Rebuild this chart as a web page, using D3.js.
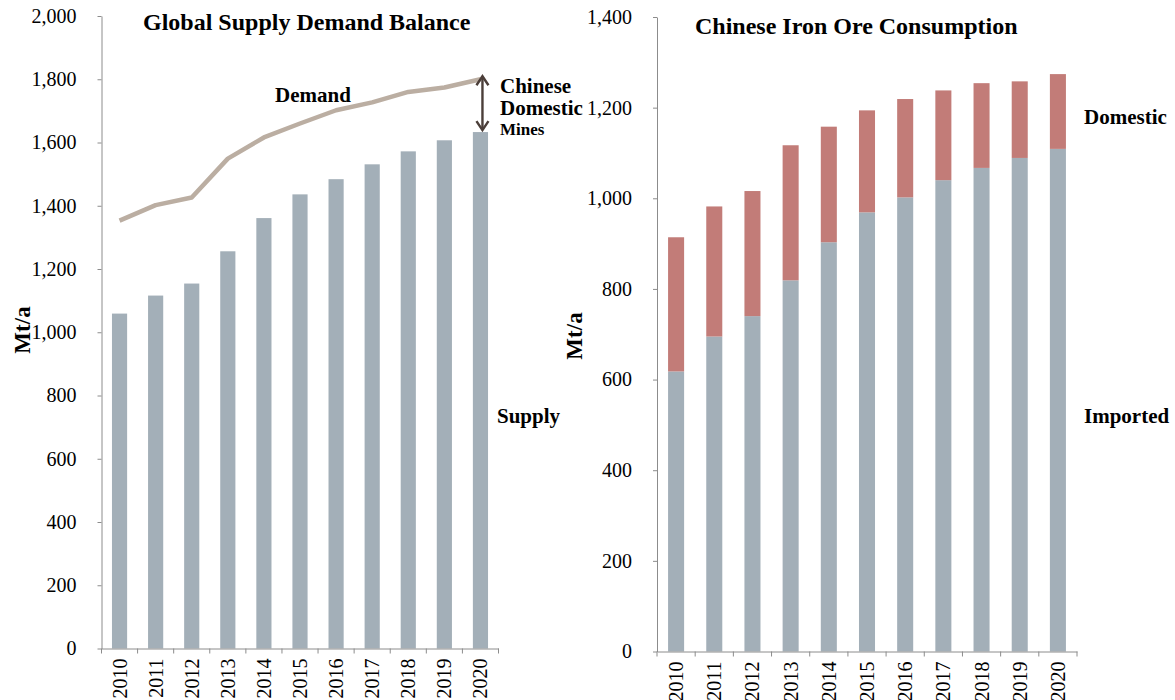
<!DOCTYPE html>
<html lang="en">

<head>
    <script src="https://d3js.org/d3.v7.min.js"></script>
    <title>Iron ore supply, demand and Chinese consumption</title>
    <style>
        body {
            margin: 0;
            background: #fff;
        }

        svg text {
            font-family: "Liberation Serif", "Times New Roman", serif;
            fill: #000;
        }

        .axis path,
        .axis line {
            stroke: #8c8c8c;
            stroke-width: 1;
        }

        .axis text {
            font-size: 20px;
        }

        .label {
            font-weight: bold;
            font-size: 21px;
        }
    </style>
</head>

<body>
    <svg id="chart" width="1175" height="700"></svg>

    <script>
        const width = 1175;
        const height = 700;

        // data (Mt/a)
        const years = ["2010", "2011", "2012", "2013", "2014", "2015", "2016", "2017", "2018", "2019", "2020"];
        const supply = [1059, 1116, 1154, 1256, 1361, 1436, 1484, 1531, 1572, 1607, 1633];
        const demand = [1353, 1402, 1426, 1549, 1616, 1660, 1702, 1727, 1760, 1774, 1800];
        const imported = [618, 695, 740, 819, 903, 969, 1002, 1040, 1067, 1089, 1109];
        const domestic = [296, 287, 276, 298, 255, 225, 217, 198, 187, 169, 165];

        const leftTicks = [0, 200, 400, 600, 800, 1000, 1200, 1400, 1600, 1800, 2000];
        const rightTicks = [0, 200, 400, 600, 800, 1000, 1200, 1400];

        const greyBar = "#a3afb8";
        const redBar = "#c27c78";
        const demandColor = "#bbaea2";
        const arrowColor = "#4b3e39";

        const svg = d3.select("#chart")
            .attr("width", width)
            .attr("height", height);

        function drawAxes(x, y, ticks) {
            const x0 = x.range()[0], x1 = x.range()[1];
            const y0 = y.range()[0];

            svg.append("g")
                .attr("class", "axis")
                .attr("transform", `translate(${x0},0)`)
                .call(d3.axisLeft(y)
                    .tickValues(ticks)
                    .tickSizeInner(4)
                    .tickSizeOuter(0)
                    .tickPadding(21)
                    .tickFormat(d3.format(",")));

            const xAxis = svg.append("g")
                .attr("class", "axis")
                .attr("transform", `translate(0,${y0})`)
                .call(d3.axisBottom(x).tickSize(0).tickSizeOuter(0));

            xAxis.selectAll(".tick text")
                .attr("transform", "rotate(-90)")
                .attr("x", -10)
                .attr("y", 0)
                .attr("dy", "0.35em")
                .style("text-anchor", "end");

            // ticks sit on the category boundaries
            xAxis.selectAll(".edge")
                .data(years.concat(["end"]))
                .enter().append("line")
                .attr("class", "edge")
                .attr("x1", d => d === "end" ? x1 : x(d))
                .attr("x2", d => d === "end" ? x1 : x(d))
                .attr("y1", 0)
                .attr("y2", 5);
        }

        // ---------- left: global supply demand balance ----------
        const xL = d3.scaleBand().domain(years).range([101.5, 498.5]).padding(0);
        const yL = d3.scaleLinear().domain([0, 2000]).range([648.5, 16]);
        const barWL = xL.bandwidth() * 0.42;

        svg.append("g").selectAll("rect")
            .data(years)
            .enter().append("rect")
            .attr("x", d => xL(d) + (xL.bandwidth() - barWL) / 2)
            .attr("y", (d, i) => yL(supply[i]))
            .attr("width", barWL)
            .attr("height", (d, i) => yL(0) - yL(supply[i]))
            .style("fill", greyBar);

        drawAxes(xL, yL, leftTicks);

        const line = d3.line()
            .x((d, i) => xL(years[i]) + xL.bandwidth() / 2)
            .y(d => yL(d));

        svg.append("path")
            .datum(demand)
            .attr("d", line)
            .style("fill", "none")
            .style("stroke", demandColor)
            .style("stroke-width", 4.5)
            .style("stroke-linejoin", "round");

        // arrow between demand and supply in 2020
        const ax = xL("2020") + xL.bandwidth() / 2 + 2;
        const aTop = yL(demand[10]) - 3;
        const aBot = yL(supply[10]) - 2;
        const arrow = svg.append("g")
            .style("fill", "none")
            .style("stroke", arrowColor)
            .style("stroke-width", 2.4);
        arrow.append("line").attr("x1", ax).attr("x2", ax).attr("y1", aTop).attr("y2", aBot);
        arrow.append("path").attr("d", `M${ax - 6},${aTop + 9}L${ax},${aTop}L${ax + 6},${aTop + 9}`);
        arrow.append("path").attr("d", `M${ax - 6},${aBot - 9}L${ax},${aBot}L${ax + 6},${aBot - 9}`);

        svg.append("text").attr("class", "label")
            .attr("x", 143).attr("y", 30)
            .style("font-size", "24px")
            .text("Global Supply Demand Balance");
        svg.append("text").attr("class", "label").attr("x", 275).attr("y", 101.5).text("Demand");
        svg.append("text").attr("class", "label").attr("x", 497).attr("y", 422.5).text("Supply");
        svg.append("text").attr("class", "label").attr("x", 500).attr("y", 93).text("Chinese");
        svg.append("text").attr("class", "label").attr("x", 500).attr("y", 115).text("Domestic");
        svg.append("text").attr("class", "label").attr("x", 500).attr("y", 135)
            .style("font-size", "17px").text("Mines");
        svg.append("text").attr("class", "label")
            .attr("transform", "translate(30,330) rotate(-90)")
            .style("text-anchor", "middle")
            .style("font-size", "23px")
            .text("Mt/a");

        // ---------- right: chinese iron ore consumption ----------
        const xR = d3.scaleBand().domain(years).range([657, 1077]).padding(0);
        const yR = d3.scaleLinear().domain([0, 1400]).range([651.5, 17]);
        const barWR = xR.bandwidth() * 0.42;

        const stacked = years.map((d, i) => ({ year: d, imported: imported[i], domestic: domestic[i] }));
        const series = d3.stack().keys(["imported", "domestic"])(stacked);
        const colors = { imported: greyBar, domestic: redBar };

        svg.append("g").selectAll("g")
            .data(series)
            .enter().append("g")
            .style("fill", s => colors[s.key])
            .selectAll("rect")
            .data(s => s)
            .enter().append("rect")
            .attr("x", d => xR(d.data.year) + (xR.bandwidth() - barWR) / 2)
            .attr("y", d => yR(d[1]))
            .attr("width", barWR)
            .attr("height", d => yR(d[0]) - yR(d[1]));

        drawAxes(xR, yR, rightTicks);

        svg.append("text").attr("class", "label")
            .attr("x", 695).attr("y", 34)
            .style("font-size", "24px")
            .text("Chinese Iron Ore Consumption");
        svg.append("text").attr("class", "label").attr("x", 1084).attr("y", 124).text("Domestic");
        svg.append("text").attr("class", "label").attr("x", 1084).attr("y", 423).text("Imported");
        svg.append("text").attr("class", "label")
            .attr("transform", "translate(582,336) rotate(-90)")
            .style("text-anchor", "middle")
            .style("font-size", "23px")
            .text("Mt/a");
    </script>
</body>

</html>
